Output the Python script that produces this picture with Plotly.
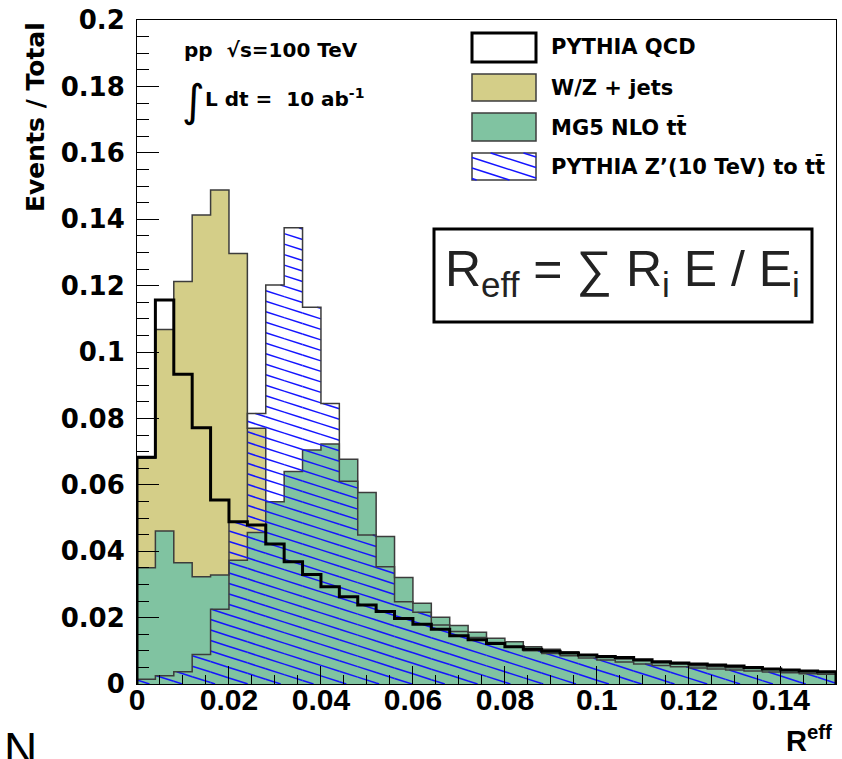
import plotly.graph_objects as go
import numpy as np

# ---------------- data (Events / Total per bin, bin width 0.004) ----------------
bin_width = 0.004
n_bins = 38
edges = [round(i * bin_width, 4) for i in range(n_bins + 1)]

qcd = [0.0683, 0.1157, 0.0933, 0.0772, 0.0554, 0.0489, 0.0479, 0.0422, 0.0368, 0.0330,
       0.0293, 0.0263, 0.0238, 0.0218, 0.0197, 0.0180, 0.0165, 0.0145, 0.0133, 0.0122,
       0.0112, 0.0105, 0.0099, 0.0093, 0.0087, 0.0083, 0.0080, 0.0073, 0.0067, 0.0063,
       0.0060, 0.0057, 0.0054, 0.0050, 0.0045, 0.0042, 0.0039, 0.0037]

wz = [0.0680, 0.1068, 0.1212, 0.1413, 0.1488, 0.1297, 0.0770, 0.0, 0.0, 0.0,
      0.0, 0.0, 0.0, 0.0, 0.0, 0.0, 0.0, 0.0, 0.0, 0.0,
      0.0, 0.0, 0.0, 0.0, 0.0, 0.0, 0.0, 0.0, 0.0, 0.0,
      0.0, 0.0, 0.0, 0.0, 0.0, 0.0, 0.0, 0.0]

ttbar = [0.0350, 0.0461, 0.0365, 0.0323, 0.0328, 0.0373, 0.0456, 0.0549, 0.0640, 0.0705,
         0.0723, 0.0677, 0.0577, 0.0444, 0.0321, 0.0243, 0.0201, 0.0176, 0.0156, 0.0138,
         0.0127, 0.0112, 0.0105, 0.0097, 0.0087, 0.0080, 0.0075, 0.0070, 0.0064, 0.0060,
         0.0055, 0.0052, 0.0049, 0.0047, 0.0044, 0.0040, 0.0037, 0.0034]

zprime = [0.0014, 0.0025, 0.0037, 0.0089, 0.0225, 0.0489, 0.0815, 0.1202, 0.1374, 0.1135,
          0.0845, 0.0611, 0.0449, 0.0353, 0.0248, 0.0216, 0.0178, 0.0158, 0.0140, 0.0125,
          0.0112, 0.0100, 0.0092, 0.0085, 0.0078, 0.0072, 0.0066, 0.0060, 0.0056, 0.0052,
          0.0048, 0.0045, 0.0042, 0.0039, 0.0036, 0.0034, 0.0031, 0.0029]

x_ticks = [0, 0.02, 0.04, 0.06, 0.08, 0.1, 0.12, 0.14]
x_ticktext = ["0", "0.02", "0.04", "0.06", "0.08", "0.1", "0.12", "0.14"]
y_ticks = [0, 0.02, 0.04, 0.06, 0.08, 0.1, 0.12, 0.14, 0.16, 0.18, 0.2]
y_ticktext = ["0", "0.02", "0.04", "0.06", "0.08", "0.1", "0.12", "0.14", "0.16", "0.18", "0.2"]

legend_labels = ["PYTHIA QCD", "W/Z + jets", "MG5 NLO tt\u0304", "PYTHIA Z\u2019(10 TeV) to tt\u0304"]

# ---------------- geometry ----------------
W, H = 842, 759
ML, MR, MT, MB = 137, 6, 20, 75
PW, PH = W - ML - MR, H - MT - MB
XMAX, YMAX = edges[-1], 0.2


def px2x(px):
    return (px - ML) / PW


def py2y(py):
    return (H - MB - py) / PH


def step_xy(vals):
    xs = [edges[0]] + edges + [edges[-1]]
    ys = [0] + list(vals) + [vals[-1], 0]
    return xs, ys


# hatch lines for Z' histogram (derived from data via clipping)
hatch_slope_px = 0.32
hatch_spacing_px = 10.5
m = -hatch_slope_px * (PW / XMAX) / (PH / YMAX)
dc = hatch_spacing_px / (PH / YMAX)
hx, hy = [], []
c = 0.0012
cmax = max(zprime) + abs(m) * XMAX + dc
while c < cmax:
    for i, v in enumerate(zprime):
        a, b = edges[i], edges[i + 1]
        lo = max(a, (v - c) / m)
        hi = min(b, c / abs(m))
        if hi > lo:
            hx += [lo, hi, None]
            hy += [c + m * lo, c + m * hi, None]
    c += dc

yellow = "#d4ce88"
green = "#80c3a1"
hatch_blue = "rgb(20,20,255)"
outline = "#3c3c3c"

fig = go.Figure()

xs, ys = step_xy(wz)
fig.add_trace(go.Scatter(x=xs, y=ys, mode="lines", line=dict(shape="hv", color=outline, width=1.5),
                         fill="tozeroy", fillcolor=yellow, hoverinfo="skip"))
xs, ys = step_xy(ttbar)
fig.add_trace(go.Scatter(x=xs, y=ys, mode="lines", line=dict(shape="hv", color=outline, width=1.5),
                         fill="tozeroy", fillcolor=green, hoverinfo="skip"))
fig.add_trace(go.Scatter(x=hx, y=hy, mode="lines", line=dict(color=hatch_blue, width=1.5),
                         hoverinfo="skip"))
xs, ys = step_xy(zprime)
fig.add_trace(go.Scatter(x=xs, y=ys, mode="lines", line=dict(shape="hv", color=outline, width=1.5),
                         hoverinfo="skip"))
xs, ys = step_xy(qcd)
fig.add_trace(go.Scatter(x=xs, y=ys, mode="lines", line=dict(shape="hv", color="black", width=3),
                         hoverinfo="skip"))

shapes = []
annotations = []

# legend swatches
sw_x0, sw_x1 = 472, 536
sw_rows = [(33, 62), (74, 101), (113, 141), (153, 180)]
label_y = [47.5, 88, 127, 166.5]
sw_styles = [
    dict(fillcolor="white", line=dict(color="black", width=3)),
    dict(fillcolor=yellow, line=dict(color=outline, width=1.5)),
    dict(fillcolor=green, line=dict(color=outline, width=1.5)),
    dict(fillcolor="white", line=dict(color=outline, width=1.5)),
]
for (y0, y1), st in zip(sw_rows, sw_styles):
    shapes.append(dict(type="rect", xref="paper", yref="paper",
                       x0=px2x(sw_x0), x1=px2x(sw_x1), y0=py2y(y1), y1=py2y(y0),
                       fillcolor=st["fillcolor"], line=st["line"], layer="above"))
# hatch inside the last swatch
y0b, y1b = sw_rows[3]
k0 = y0b - hatch_slope_px * (sw_x1 - sw_x0) + 4
while k0 < y1b:
    xa = max(sw_x0, sw_x0 + (y0b - k0) / hatch_slope_px)
    xb = min(sw_x1, sw_x0 + (y1b - k0) / hatch_slope_px)
    if xb > xa:
        shapes.append(dict(type="line", xref="paper", yref="paper",
                           x0=px2x(xa), y0=py2y(k0 + hatch_slope_px * (xa - sw_x0)),
                           x1=px2x(xb), y1=py2y(k0 + hatch_slope_px * (xb - sw_x0)),
                           line=dict(color=hatch_blue, width=1.5), layer="above"))
    k0 += hatch_spacing_px

for lab, yy in zip(legend_labels, label_y):
    annotations.append(dict(text=lab, xref="paper", yref="paper", x=px2x(549), y=py2y(yy),
                            xanchor="left", yanchor="middle", showarrow=False,
                            font=dict(family="DejaVu Sans", size=21, color="black", weight="bold")))

# R_eff box
shapes.append(dict(type="rect", xref="paper", yref="paper",
                   x0=px2x(434), x1=px2x(812), y0=py2y(322), y1=py2y(229),
                   fillcolor="white", line=dict(color="black", width=3), layer="above"))
annotations.append(dict(text="R<sub>eff</sub> = \u2211 R<sub>i</sub> E / E<sub>i</sub>",
                        xref="paper", yref="paper", x=px2x(622), y=py2y(272),
                        xanchor="center", yanchor="middle", showarrow=False,
                        font=dict(family="Liberation Sans", size=50, color="#222222")))

# pp sqrt(s) text
annotations.append(dict(text="pp  \u221As=100 TeV", xref="paper", yref="paper",
                        x=px2x(182), y=py2y(50), xanchor="left", yanchor="middle", showarrow=False,
                        font=dict(family="DejaVu Sans", size=20, color="black", weight="bold")))
annotations.append(dict(text="\u222B", xref="paper", yref="paper",
                        x=px2x(180), y=py2y(100), xanchor="left", yanchor="middle", showarrow=False,
                        font=dict(family="DejaVu Sans", size=44, color="black")))
annotations.append(dict(text="L dt =  10 ab<sup>-1</sup>", xref="paper", yref="paper",
                        x=px2x(203), y=py2y(98), xanchor="left", yanchor="middle", showarrow=False,
                        font=dict(family="DejaVu Sans", size=20, color="black", weight="bold")))

# axis titles
annotations.append(dict(text="Events / Total", xref="paper", yref="paper",
                        x=px2x(35), y=py2y(117), xanchor="center", yanchor="middle",
                        textangle=-90, showarrow=False,
                        font=dict(family="DejaVu Sans", size=25, color="black", weight="bold")))
annotations.append(dict(text="R<sup>eff</sup>", xref="paper", yref="paper",
                        x=px2x(834), y=py2y(739), xanchor="right", yanchor="middle", showarrow=False,
                        font=dict(family="Liberation Sans", size=29, color="black", weight="bold")))
# cut-off glyph at the lower-left corner of the picture
annotations.append(dict(text="N", xref="paper", yref="paper",
                        x=px2x(2), y=py2y(721), xanchor="left", yanchor="top", showarrow=False,
                        font=dict(family="Liberation Sans", size=46, color="black")))

fig.update_layout(
    width=W, height=H,
    margin=dict(l=ML, r=MR, t=MT, b=MB, pad=0),
    paper_bgcolor="white", plot_bgcolor="white",
    showlegend=False,
    shapes=shapes, annotations=annotations,
    xaxis=dict(range=[0, XMAX], tickmode="array", tickvals=x_ticks, ticktext=x_ticktext,
               ticks="inside", ticklen=18, tickwidth=1, tickcolor="black",
               minor=dict(ticks="inside", ticklen=9, tickwidth=1, tickcolor="black", dtick=0.005, tick0=0),
               showline=True, mirror=True, linecolor="black", linewidth=1,
               showgrid=False, zeroline=False, ticklabelstandoff=-11,
               tickfont=dict(family="Liberation Sans", size=30, color="black", weight="bold")),
    yaxis=dict(range=[0, YMAX], tickmode="array", tickvals=y_ticks, ticktext=y_ticktext,
               ticks="inside", ticklen=22, tickwidth=1, tickcolor="black",
               minor=dict(ticks="inside", ticklen=12, tickwidth=1, tickcolor="black", dtick=0.005, tick0=0),
               showline=True, mirror=True, linecolor="black", linewidth=1,
               showgrid=False, zeroline=False, ticklabelstandoff=6,
               tickfont=dict(family="DejaVu Sans", size=26, color="black", weight="bold")),
)

fig.write_html("out.html")
